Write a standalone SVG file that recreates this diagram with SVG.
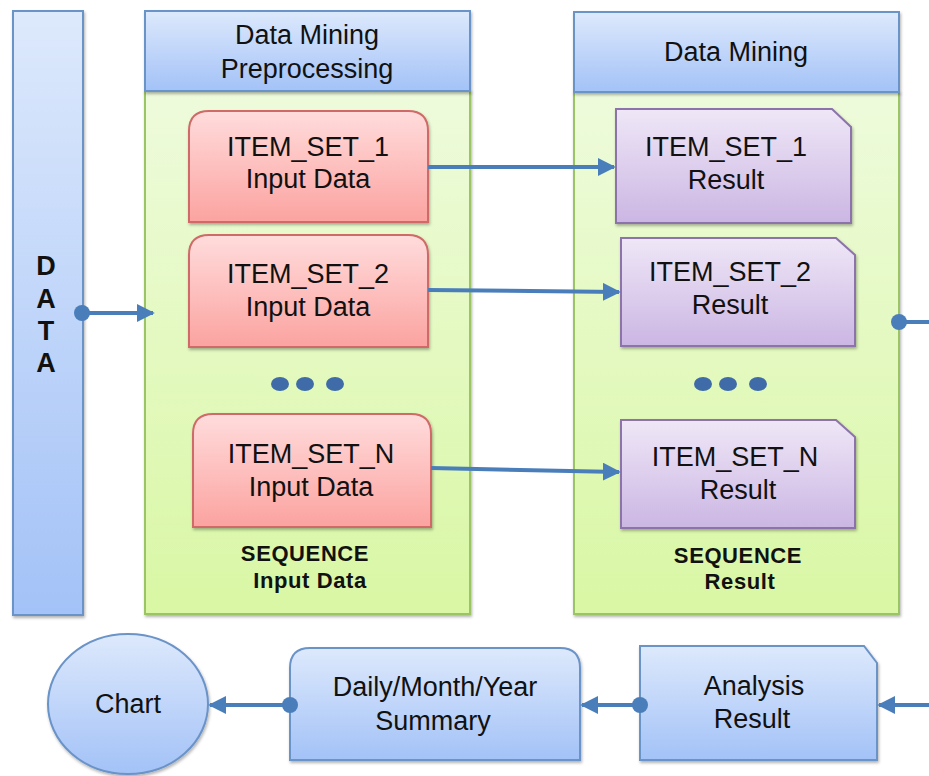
<svg xmlns="http://www.w3.org/2000/svg" width="929" height="776" viewBox="0 0 929 776">
<defs>
<linearGradient id="gBlue" x1="0" y1="0" x2="0" y2="1"><stop offset="0" stop-color="#dde9fc"/><stop offset="1" stop-color="#a3c2f7"/></linearGradient>
<linearGradient id="gGreen" x1="0" y1="0" x2="0" y2="1"><stop offset="0" stop-color="#eefbdc"/><stop offset="1" stop-color="#d9f7a4"/></linearGradient>
<linearGradient id="gRed" x1="0" y1="0" x2="0" y2="1"><stop offset="0" stop-color="#ffdcdc"/><stop offset="1" stop-color="#fba3a0"/></linearGradient>
<linearGradient id="gPurple" x1="0" y1="0" x2="0" y2="1"><stop offset="0" stop-color="#efe7f7"/><stop offset="1" stop-color="#cbb6e3"/></linearGradient>
<filter id="sh" x="-10%" y="-10%" width="130%" height="130%"><feDropShadow dx="1" dy="2" stdDeviation="1.5" flood-color="#000" flood-opacity="0.3"/></filter>
<marker id="ah" viewBox="0 0 10 10" refX="9" refY="5" markerWidth="4.5" markerHeight="4.5" orient="auto"><path d="M0,0 L10,5 L0,10 z" fill="#4a7ebb"/></marker>
<marker id="dot" viewBox="0 0 10 10" refX="5" refY="5" markerWidth="4" markerHeight="4" orient="auto"><circle cx="5" cy="5" r="5" fill="#4a7ebb"/></marker>
<style>
.blue{fill:url(#gBlue);stroke:#6b93c8;stroke-width:2;filter:url(#sh)}
.green{fill:url(#gGreen);stroke:#9bc565;stroke-width:2;filter:url(#sh)}
.red{fill:url(#gRed);stroke:#cf6a68;stroke-width:2;filter:url(#sh)}
.purple{fill:url(#gPurple);stroke:#8c73aa;stroke-width:2;filter:url(#sh)}
.t{font-family:"Liberation Sans",Arial,sans-serif;font-size:27px;fill:#111;text-anchor:middle}
.b{font-family:"Liberation Sans",Arial,sans-serif;font-size:22px;letter-spacing:0.6px;font-weight:bold;fill:#111;text-anchor:middle}
.d{font-family:"Liberation Sans",Arial,sans-serif;font-size:27px;font-weight:bold;fill:#111;text-anchor:middle}
.c{fill:none;stroke:#4a7ebb;stroke-width:4}
.dots{fill:#3f6ca8}
</style>
</defs>

<g id="data">
<rect class="blue" x="13" y="11" width="70" height="604"/>
<text class="d" x="46" y="275">D</text>
<text class="d" x="46" y="308">A</text>
<text class="d" x="46" y="340">T</text>
<text class="d" x="46" y="372">A</text>
</g>

<g id="preprocessing">
<rect class="green" x="145" y="91" width="325" height="523"/>
<rect class="blue" x="145" y="11" width="325" height="80"/>
<text class="t" x="307" y="44">Data Mining</text>
<text class="t" x="307" y="78">Preprocessing</text>
<text class="b" x="305" y="561">SEQUENCE</text>
<text class="b" x="310" y="588">Input Data</text>
<g class="dots"><ellipse cx="280" cy="384" rx="9" ry="7"/><ellipse cx="305" cy="384" rx="9" ry="7"/><ellipse cx="335" cy="384" rx="9" ry="7"/></g>
</g>

<g id="mining">
<rect class="green" x="574" y="92" width="325" height="522"/>
<rect class="blue" x="574" y="12" width="325" height="80"/>
<text class="t" x="736" y="61">Data Mining</text>
<text class="b" x="738" y="563">SEQUENCE</text>
<text class="b" x="740" y="589">Result</text>
<g class="dots"><ellipse cx="703" cy="384" rx="9" ry="7"/><ellipse cx="728" cy="384" rx="9" ry="7"/><ellipse cx="758" cy="384" rx="9" ry="7"/></g>
</g>

<g id="in1">
<path class="red" d="M189,222 V131 Q189,111 209,111 H408 Q428,111 428,131 V222 Z"/>
<text class="t" x="308" y="156">ITEM_SET_1</text>
<text class="t" x="308" y="188">Input Data</text>
</g>
<g id="in2">
<path class="red" d="M189,347 V255 Q189,235 209,235 H408 Q428,235 428,255 V347 Z"/>
<text class="t" x="308" y="283">ITEM_SET_2</text>
<text class="t" x="308" y="316">Input Data</text>
</g>
<g id="inN">
<path class="red" d="M193,527 V434 Q193,414 213,414 H411 Q431,414 431,434 V527 Z"/>
<text class="t" x="311" y="463">ITEM_SET_N</text>
<text class="t" x="311" y="496">Input Data</text>
</g>

<g id="res1">
<path class="purple" d="M616,109 H832 L851,127 V223 H616 Z"/>
<text class="t" x="726" y="156">ITEM_SET_1</text>
<text class="t" x="726" y="189">Result</text>
</g>
<g id="res2">
<path class="purple" d="M621,238 H836 L855,255 V346 H621 Z"/>
<text class="t" x="730" y="281">ITEM_SET_2</text>
<text class="t" x="730" y="314">Result</text>
</g>
<g id="resN">
<path class="purple" d="M621,420 H836 L855,437 V528 H621 Z"/>
<text class="t" x="735" y="466">ITEM_SET_N</text>
<text class="t" x="738" y="499">Result</text>
</g>

<g id="chart">
<ellipse class="blue" cx="128" cy="704" rx="80" ry="70"/>
<text class="t" x="128" y="713">Chart</text>
</g>
<g id="summary">
<path class="blue" d="M290,760 V668 Q290,648 310,648 H560 Q580,648 580,668 V760 Z"/>
<text class="t" x="435" y="696">Daily/Month/Year</text>
<text class="t" x="433" y="730">Summary</text>
</g>
<g id="analysis">
<path class="blue" d="M640,646 H864 L877,663 V760 H640 Z"/>
<text class="t" x="754" y="695">Analysis</text>
<text class="t" x="752" y="728">Result</text>
</g>

<g id="connectors">
<path class="c" d="M82,313 H153" marker-start="url(#dot)" marker-end="url(#ah)"/>
<path class="c" d="M428,167 H614" marker-end="url(#ah)"/>
<path class="c" d="M428,290 L619,292" marker-end="url(#ah)"/>
<path class="c" d="M431,468 L619,472" marker-end="url(#ah)"/>
<path class="c" d="M899,322 H929" marker-start="url(#dot)"/>
<path class="c" d="M929,705 H879" marker-end="url(#ah)"/>
<path class="c" d="M640,705 H582" marker-start="url(#dot)" marker-end="url(#ah)"/>
<path class="c" d="M290,705 H210" marker-start="url(#dot)" marker-end="url(#ah)"/>
</g>
</svg>
